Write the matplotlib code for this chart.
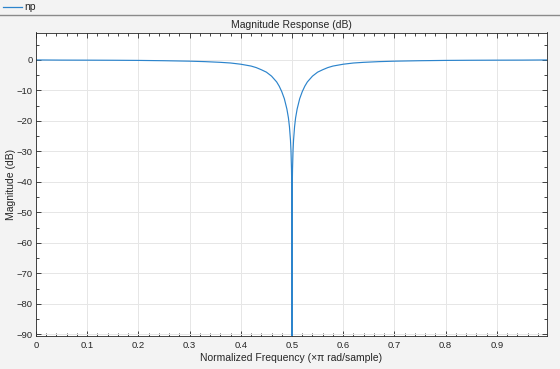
import numpy as np
import matplotlib
matplotlib.use('Agg')
import matplotlib.pyplot as plt
from matplotlib.lines import Line2D
from matplotlib.ticker import MultipleLocator

# magnitude response (notch at 0.5)
freq_left = [0.0, 0.05, 0.10, 0.15, 0.20, 0.25, 0.30, 0.33, 0.36, 0.38, 0.40,
             0.42, 0.43, 0.44, 0.45, 0.46, 0.47, 0.475, 0.48, 0.485, 0.49,
             0.493, 0.495, 0.497, 0.498, 0.499, 0.4995, 0.4999]
mag_left = [0.0, -0.05, -0.07, -0.10, -0.15, -0.25, -0.40, -0.55, -0.78, -1.0, -1.4,
            -2.0, -2.5, -3.2, -4.0, -5.3, -7.2, -8.6, -10.4, -12.7, -16.1,
            -19.0, -21.9, -26.3, -29.8, -35.8, -41.9, -55.0]
freq_notch = [0.5]
mag_notch = [-120.0]
freq_right = [0.5001, 0.5005, 0.501, 0.502, 0.503, 0.505, 0.507, 0.51, 0.515,
              0.52, 0.525, 0.53, 0.54, 0.55, 0.56, 0.57, 0.58, 0.60, 0.62,
              0.64, 0.67, 0.70, 0.75, 0.80, 0.85, 0.90, 0.95, 0.998]
mag_right = [-55.0, -41.9, -35.8, -29.8, -26.3, -21.9, -19.0, -16.1, -12.7,
             -10.4, -8.6, -7.2, -5.3, -4.0, -3.2, -2.5, -2.0, -1.4, -1.0,
             -0.78, -0.55, -0.40, -0.25, -0.15, -0.10, -0.07, -0.05, 0.0]

legend_name = 'np'
title_text = 'Magnitude Response (dB)'
xlabel_text = 'Normalized Frequency (\u00d7\u03c0 rad/sample)'
ylabel_text = 'Magnitude (dB)'

plt.rcParams['font.family'] = ['Liberation Sans', 'DejaVu Sans']

line_color = '#2c84cc'
bg_color = '#f3f3f3'
text_color = '#262626'


def make_plot():
	fig = plt.figure(figsize=(5.6, 3.69), dpi=100, facecolor=bg_color)
	ax = fig.add_axes([36/560, 1 - 336/369, 511/560, (336 - 32.5)/369])
	ax.set_facecolor('white')

	f = np.array(freq_left + freq_notch + freq_right)
	m = np.array(mag_left + mag_notch + mag_right)
	ax.plot(f, m, color=line_color, lw=0.85)

	ax.set_xlim(0, 0.998)
	ax.set_ylim(-90.5, 9.0)
	ax.xaxis.set_minor_locator(MultipleLocator(0.02))
	ax.yaxis.set_major_locator(MultipleLocator(10))
	ax.yaxis.set_minor_locator(MultipleLocator(5))
	ax.set_xticks(np.arange(0, 1.0, 0.1))
	ax.set_xticklabels(['0'] + ['%.1f' % v for v in np.arange(0.1, 1.0, 0.1)])

	ax.tick_params(which='both', direction='in', top=True, right=True,
				   labelsize=6.8, colors=text_color, width=0.6)
	ax.tick_params(which='major', length=3.5)
	ax.tick_params(which='minor', length=2)
	ax.tick_params(axis='y', pad=2.5)
	ax.grid(True, which='major', color='#e6e6e6', lw=0.7)
	ax.set_axisbelow(True)
	for s in ax.spines.values():
		s.set_color(text_color)
		s.set_linewidth(0.6)

	ax.set_title(title_text, fontsize=7.5, color=text_color, pad=3)
	ax.set_xlabel(xlabel_text, fontsize=7.5, color=text_color, labelpad=2)
	ax.set_ylabel(ylabel_text, fontsize=7.5, color=text_color)
	ax.yaxis.set_label_coords(-20/511, 0.5)

	# legend strip at top of figure
	fig.add_artist(Line2D([0, 1], [1 - 15/369] * 2, color='#8a8a8a', lw=1.0,
						  transform=fig.transFigure))
	fig.add_artist(Line2D([3/560, 22/560], [1 - 7/369] * 2, color=line_color,
						  lw=0.9, transform=fig.transFigure))
	fig.text(24/560, 1 - 7/369, legend_name, fontsize=7.5, color=text_color,
			 va='center', ha='left')

	fig.savefig('out.png', dpi=100, facecolor=bg_color)


if __name__ == '__main__':
	make_plot()
